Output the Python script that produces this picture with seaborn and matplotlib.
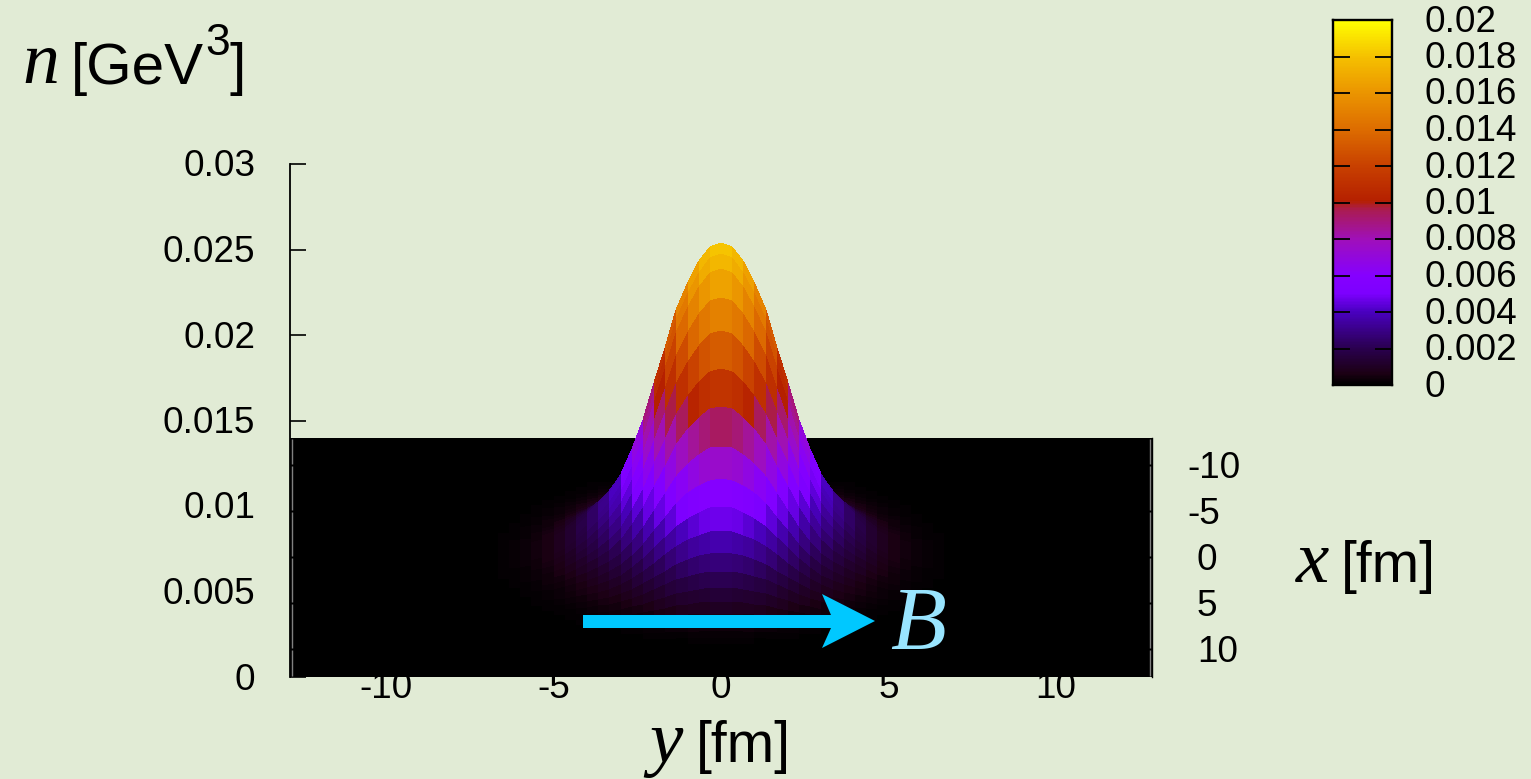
import numpy as np
import matplotlib
matplotlib.use("Agg")
import matplotlib.pyplot as plt
from matplotlib.colors import LinearSegmentedColormap
from matplotlib.patches import Polygon
from matplotlib.transforms import ScaledTranslation, blended_transform_factory
import seaborn as sns

# grid of the surface, fm
y_fm = [v / 3 for v in range(-39, 40)]
x_fm = [v * 0.5 for v in range(-26, 27)]

# n [GeV^3], one half each (from 0 fm outwards)
n_ridge_x = [0.0184, 0.0180, 0.01737, 0.0160, 0.0143, 0.01234, 0.0104, 0.00836,
             0.00673, 0.00536, 0.00421, 0.00320, 0.00240, 0.00170, 0.00115, 0.00075,
             0.00045, 0.00025, 0.00012, 0.00006, 0.00003]
n_ridge_y = [0.0184, 0.01816, 0.0173, 0.0161, 0.01444, 0.01224, 0.01012, 0.00791,
             0.00616, 0.0046, 0.0035, 0.00276, 0.00212, 0.00156, 0.00107, 0.00074,
             0.0005, 0.00033, 0.00022, 0.00015, 0.00009, 0.00006, 0.00004, 0.00002]

y_ticks = [-10, -5, 0, 5, 10]
x_ticks = [-10, -5, 0, 5, 10]
n_ticks = [0, 0.005, 0.01, 0.015, 0.02, 0.025, 0.03]
n_tick_labels = ["0", "0.005", "0.01", "0.015", "0.02", "0.025", "0.03"]
cb_ticks = [0, 0.002, 0.004, 0.006, 0.008, 0.01, 0.012, 0.014, 0.016, 0.018, 0.02]
cb_tick_labels = ["0", "0.002", "0.004", "0.006", "0.008", "0.01", "0.012", "0.014",
                  "0.016", "0.018", "0.02"]

BG = "#e1ebd5"
W, H = 1531, 779
PLANE_TOP = 0.014  # vertical axis value of the back edge of the floor

palette = LinearSegmentedColormap.from_list("pal", [
    (0.0, "#000000"), (0.03, "#1c0014"), (0.1, "#2a0050"), (0.2, "#4a00c0"), (0.25, "#7d00ff"),
    (0.3, "#8500ff"), (0.4, "#a010b8"), (0.48, "#aa1c50"), (0.505, "#b52000"), (0.6, "#c84000"),
    (0.7, "#dd6c00"), (0.8, "#eb9400"), (0.9, "#f5c000"), (1.0, "#ffff00")])


def half_to_full(half, n_points):
    values = np.zeros(n_points)
    mid = n_points // 2
    for i, v in enumerate(half):
        values[mid + i] = v
        values[mid - i] = v
    return values


def floor_height(x):
    return (max(x_fm) - x) * PLANE_TOP / (max(x_fm) - min(x_fm))


def fx(x):
    return x / W


def fy(y):
    return 1 - y / H


sns.set_theme(style="ticks", rc={"figure.facecolor": BG, "savefig.facecolor": BG,
                                 "axes.facecolor": "none", "axes.unicode_minus": False})
plt.rcParams["font.family"] = ["Liberation Sans", "DejaVu Sans"]
LABEL_SIZE = 26.6

fig = plt.figure(figsize=(W / 100, H / 100), dpi=100)
ax = fig.add_axes([fx(290), fy(677), (1152 - 290) / W, (677 - 164) / H])


def shift_px(dx, dy):
    return ScaledTranslation(dx / 100, dy / 100, fig.dpi_scale_trans)


# surface: floor tilted so that x moves up the vertical axis, n added on top
yy, xx = np.meshgrid(y_fm, x_fm)
along_x = half_to_full(n_ridge_x, len(x_fm))
along_y = half_to_full(n_ridge_y, len(y_fm))
nn = np.outer(along_x, along_y) / n_ridge_x[0]
screen = nn + floor_height(xx)
cell = (nn[:-1, :-1] + nn[1:, :-1] + nn[:-1, 1:] + nn[1:, 1:]) / 4
ax.pcolormesh(yy, screen, cell, cmap=palette, vmin=0, vmax=0.02, shading="flat",
              edgecolors="none", antialiased=False)

ax.set_xlim(-12.87, 12.87)
ax.set_ylim(0, 0.03)
ax.set_yticks(n_ticks, n_tick_labels, fontsize=LABEL_SIZE)
ax.set_xticks(y_ticks, [str(v) for v in y_ticks], fontsize=LABEL_SIZE)
ax.tick_params(axis="y", direction="in", length=11.5, width=1.2, pad=25, color="black",
               labelcolor="black")
ax.tick_params(axis="x", length=0, pad=-4, labelcolor="black")
for lab in ax.get_yticklabels():
    lab.set_transform(lab.get_transform() + shift_px(0, 1))
sns.despine(ax=ax, top=True, right=False, bottom=True)
ax.spines["left"].set_color("black")
ax.spines["left"].set_linewidth(1.3)
ax.spines["right"].set_color("black")
ax.spines["right"].set_linewidth(1.0)
ax.spines["right"].set_bounds(0, PLANE_TOP)

# thin grey edge strips of the floor, broken at the x ticks
edges = [min(x_fm)] + x_ticks + [max(x_fm)]
for a, b in zip(edges[:-1], edges[1:]):
    ax.vlines([-12.81, 12.81], floor_height(b) + 0.00006, floor_height(a) - 0.00006,
              color="#808080", linewidth=1.0)

# x axis of the floor, on the right side
side_trans = blended_transform_factory(fig.transFigure, ax.transData) + shift_px(0, -3)
for v in x_ticks:
    left = 1187 if v < 0 else 1197
    ax.text(fx(left), floor_height(v), str(v), transform=side_trans,
            ha="left", va="center", fontsize=LABEL_SIZE, color="black")

# colour bar
cax = fig.add_axes([fx(1333), fy(385), (1392 - 1333) / W, (385 - 20) / H])
levels = np.linspace(0.02, 0, 256)
sns.heatmap(levels[:, None], ax=cax, cmap=palette, vmin=0, vmax=0.02, cbar=False,
            xticklabels=False, yticklabels=False)
cax.set_axisbelow(False)
cax.set_yticks([(0.02 - t) / 0.02 * len(levels) for t in cb_ticks], cb_tick_labels)
cax.tick_params(axis="y", left=True, right=True, labelleft=False, labelright=True,
                direction="in", length=12, width=1.3, color="black", pad=23.5,
                labelsize=LABEL_SIZE, labelcolor="black")
for lab in cax.get_yticklabels():
    lab.set_rotation(0)
    lab.set_ha("left")
    lab.set_transform(lab.get_transform() + shift_px(0, 2))
for side in cax.spines.values():
    side.set_visible(True)
    side.set_color("black")
    side.set_linewidth(1.7)

# field arrow
arrow = [(583, 615), (831, 615), (822, 594), (875, 621), (822, 648), (831, 628), (583, 628)]
fig.add_artist(Polygon([(fx(a), fy(b)) for a, b in arrow], closed=True, facecolor="#00c8ff",
                       edgecolor="none", transform=fig.transFigure))

SERIF = {"family": "Liberation Serif", "style": "italic"}
fig.text(fx(890), fy(650), "B", color="#99e5ff", fontsize=66, ha="left", va="baseline", **SERIF)
fig.text(fx(22), fy(83), "n", color="black", fontsize=53, ha="left", va="baseline", **SERIF)
fig.text(fx(71), fy(84), "[GeV", color="black", fontsize=42, ha="left", va="baseline")
fig.text(fx(205), fy(55), "3", color="black", fontsize=32, ha="left", va="baseline")
fig.text(fx(229), fy(84), "]", color="black", fontsize=42, ha="left", va="baseline")
fig.text(fx(1296), fy(582), "x", color="black", fontsize=54, ha="left", va="baseline", **SERIF)
fig.text(fx(1341), fy(582), "[fm]", color="black", fontsize=41, ha="left", va="baseline")
fig.text(fx(649), fy(762), "y", color="black", fontsize=54, ha="left", va="baseline", **SERIF)
fig.text(fx(696), fy(762), "[fm]", color="black", fontsize=41, ha="left", va="baseline")

fig.savefig("out.png", dpi=100)
